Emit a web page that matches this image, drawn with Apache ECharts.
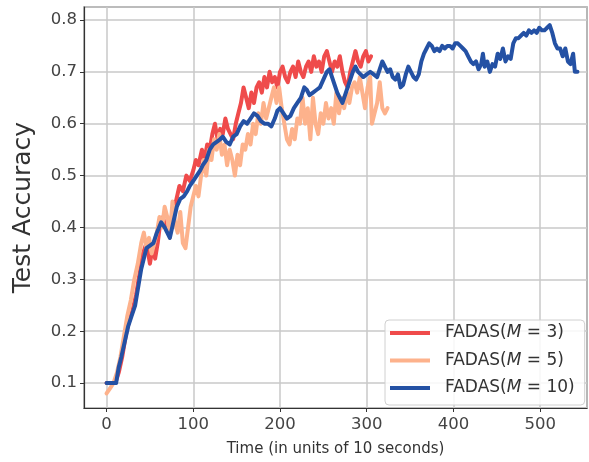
<!DOCTYPE html>
<html>
<head>
<meta charset="utf-8">
<script src="https://cdn.jsdelivr.net/npm/echarts@6/dist/echarts.min.js"></script>
<style>
  html, body { margin: 0; padding: 0; background: #fff; }
  #chart { width: 589px; height: 462px; }
</style>
</head>
<body>
<div id="chart"></div>
<script>
// 图例名称
const seriesNames = ['FADAS(M = 3)', 'FADAS(M = 5)', 'FADAS(M = 10)'];

// M = 3 : [时间, 精度]
const dataM3 = [
  [0, 0.10], [5, 0.10], [10, 0.10], [14, 0.12], [18, 0.15], [22, 0.19], [26, 0.22], [30, 0.24],
  [34, 0.27], [38, 0.31], [42, 0.35], [46, 0.37], [50, 0.33], [53, 0.36], [56, 0.34], [59, 0.37],
  [62, 0.41], [65, 0.42], [68, 0.40], [72, 0.39], [76, 0.43], [80, 0.45], [84, 0.48], [88, 0.47],
  [92, 0.50], [96, 0.49], [100, 0.51], [103, 0.53], [106, 0.52], [110, 0.55], [113, 0.53], [116, 0.56],
  [119, 0.55], [122, 0.58], [125, 0.60], [128, 0.57], [131, 0.59], [134, 0.58], [137, 0.61], [140, 0.59],
  [143, 0.58], [146, 0.57], [149, 0.60], [152, 0.62], [155, 0.64], [158, 0.67], [161, 0.65], [164, 0.63],
  [167, 0.66], [170, 0.64], [173, 0.67], [176, 0.68], [179, 0.66], [182, 0.69], [185, 0.67], [188, 0.70],
  [191, 0.68], [194, 0.69], [197, 0.67], [200, 0.70], [203, 0.71], [206, 0.69], [209, 0.68], [212, 0.70],
  [215, 0.71], [218, 0.69], [221, 0.72], [224, 0.70], [227, 0.69], [230, 0.71], [233, 0.72], [236, 0.70],
  [239, 0.73], [242, 0.71], [245, 0.72], [248, 0.70], [251, 0.73], [254, 0.74], [257, 0.72], [260, 0.70],
  [263, 0.72], [266, 0.71], [269, 0.73], [272, 0.70], [275, 0.68], [278, 0.67], [281, 0.70], [284, 0.72],
  [287, 0.74], [290, 0.72], [293, 0.71], [296, 0.73], [299, 0.74], [302, 0.72], [305, 0.73]
];

// M = 5
const dataM5 = [
  [0, 0.08], [4, 0.09], [8, 0.10], [12, 0.12], [16, 0.15], [20, 0.19], [24, 0.23], [28, 0.26],
  [32, 0.30], [36, 0.33], [40, 0.37], [43, 0.39], [46, 0.36], [49, 0.38], [52, 0.35], [55, 0.37],
  [58, 0.39], [61, 0.42], [64, 0.40], [67, 0.44], [70, 0.42], [73, 0.38], [76, 0.45], [79, 0.41],
  [82, 0.39], [85, 0.43], [88, 0.37], [91, 0.36], [94, 0.40], [97, 0.44], [100, 0.46], [103, 0.48],
  [106, 0.46], [109, 0.50], [112, 0.53], [115, 0.50], [118, 0.55], [121, 0.53], [124, 0.57], [127, 0.55],
  [130, 0.58], [133, 0.54], [136, 0.56], [139, 0.52], [142, 0.55], [145, 0.53], [148, 0.50], [151, 0.54],
  [154, 0.52], [157, 0.56], [160, 0.55], [163, 0.58], [166, 0.56], [169, 0.60], [172, 0.58], [175, 0.62],
  [178, 0.60], [181, 0.64], [184, 0.61], [187, 0.63], [190, 0.65], [193, 0.67], [196, 0.64], [199, 0.67],
  [202, 0.63], [205, 0.60], [208, 0.57], [211, 0.56], [214, 0.59], [217, 0.57], [220, 0.61], [223, 0.60],
  [226, 0.65], [229, 0.60], [232, 0.63], [235, 0.57], [238, 0.65], [241, 0.60], [244, 0.58], [247, 0.62],
  [250, 0.60], [253, 0.64], [256, 0.61], [259, 0.63], [262, 0.60], [265, 0.66], [268, 0.62], [271, 0.65],
  [274, 0.63], [277, 0.66], [280, 0.64], [283, 0.67], [286, 0.68], [289, 0.66], [292, 0.69], [295, 0.66],
  [298, 0.63], [301, 0.67], [304, 0.69], [306, 0.60], [309, 0.62], [312, 0.64], [315, 0.68], [318, 0.63],
  [321, 0.62], [324, 0.63]
];

// M = 10
const dataM10 = [
  [0, 0.10], [5, 0.10], [11, 0.10], [14, 0.13], [17, 0.15], [21, 0.18], [25, 0.21], [29, 0.23],
  [33, 0.25], [37, 0.29], [40, 0.32], [43, 0.34], [46, 0.36], [50, 0.365], [54, 0.37], [58, 0.39],
  [63, 0.41], [67, 0.40], [70, 0.39], [73, 0.38], [77, 0.41], [81, 0.44], [85, 0.455], [89, 0.46],
  [93, 0.47], [96, 0.48], [100, 0.49], [104, 0.50], [108, 0.51], [111, 0.52], [115, 0.53], [119, 0.55],
  [123, 0.56], [127, 0.565], [131, 0.57], [134, 0.575], [138, 0.565], [142, 0.56], [146, 0.575], [150, 0.58],
  [154, 0.595], [158, 0.605], [162, 0.60], [166, 0.61], [170, 0.62], [174, 0.615], [178, 0.605], [182, 0.60],
  [186, 0.60], [190, 0.595], [194, 0.61], [197, 0.625], [200, 0.63], [204, 0.62], [208, 0.61], [212, 0.615],
  [216, 0.63], [220, 0.64], [224, 0.65], [228, 0.67], [231, 0.665], [234, 0.655], [238, 0.66], [242, 0.665],
  [246, 0.67], [250, 0.685], [254, 0.70], [257, 0.705], [260, 0.69], [263, 0.675], [266, 0.66], [269, 0.65],
  [272, 0.64], [275, 0.655], [278, 0.67], [281, 0.685], [284, 0.70], [287, 0.71], [290, 0.70], [293, 0.695],
  [296, 0.69], [300, 0.695], [304, 0.70], [308, 0.695], [312, 0.69], [315, 0.705], [318, 0.72], [321, 0.71],
  [324, 0.70], [327, 0.705], [330, 0.69], [333, 0.685], [336, 0.695], [339, 0.67], [342, 0.675], [345, 0.695],
  [348, 0.71], [351, 0.70], [354, 0.69], [357, 0.685], [360, 0.695], [363, 0.72], [366, 0.735], [369, 0.745],
  [372, 0.755], [375, 0.75], [378, 0.74], [381, 0.745], [384, 0.74], [387, 0.75], [390, 0.745], [393, 0.75],
  [396, 0.75], [399, 0.745], [402, 0.755], [405, 0.755], [408, 0.75], [411, 0.745], [414, 0.74], [417, 0.73],
  [420, 0.72], [423, 0.715], [426, 0.72], [429, 0.705], [432, 0.715], [434, 0.735], [436, 0.71], [439, 0.72],
  [442, 0.70], [445, 0.715], [448, 0.71], [451, 0.735], [454, 0.725], [457, 0.745], [460, 0.72], [463, 0.73],
  [466, 0.725], [469, 0.755], [472, 0.765], [475, 0.765], [478, 0.77], [481, 0.775], [484, 0.77], [487, 0.78],
  [490, 0.775], [493, 0.78], [496, 0.775], [499, 0.785], [502, 0.78], [505, 0.78], [508, 0.785], [511, 0.79],
  [514, 0.775], [517, 0.755], [520, 0.745], [523, 0.745], [526, 0.73], [529, 0.745], [532, 0.72], [535, 0.715],
  [538, 0.735], [540, 0.70], [543, 0.70]
];

const seriesData = [dataM3, dataM5, dataM10];
const colors = ['#ef4b4b', '#fdb28c', '#2451a4'];

const font = 'DejaVu Sans';
const myChart = echarts.init(document.getElementById('chart'), null, { renderer: 'canvas' });

const option = {
  animation: false,
  backgroundColor: '#fff',
  grid: {
    left: 84, right: 2, top: 7, bottom: 49,
    show: true,
    borderColor: '#333',
    borderWidth: 1.2
  },
  legend: {
    orient: 'vertical',
    left: 385,
    top: 320,
    padding: [4, 10, 8, 5],
    backgroundColor: 'rgba(255,255,255,0.85)',
    borderColor: '#d0d0d0',
    borderWidth: 1,
    borderRadius: 4,
    icon: 'rect',
    itemWidth: 40,
    itemHeight: 4,
    itemGap: 9.5,
    data: seriesNames,
    formatter: function (name) {
      return '{s|}' + name.replace('M', '{i|M}');
    },
    textStyle: {
      fontFamily: font,
      fontSize: 17,
      color: '#333',
      lineHeight: 18,
      rich: {
        s: { width: 10 },
        i: { fontFamily: font, fontSize: 17, fontStyle: 'italic', color: '#333' }
      }
    }
  },
  xAxis: {
    type: 'value',
    min: -26,
    max: 554,
    splitNumber: 6,
    name: 'Time (in units of 10 seconds)',
    nameLocation: 'middle',
    nameGap: 34,
    nameTextStyle: { fontFamily: font, fontSize: 15, color: '#333' },
    axisLine: { show: true, onZero: false, lineStyle: { color: '#333', width: 1.2 } },
    axisTick: { show: true, inside: false, length: 4, lineStyle: { color: '#333' } },
    axisLabel: {
      fontFamily: font, fontSize: 16.5, color: '#444', margin: 8,
      showMinLabel: false, showMaxLabel: false
    },
    splitLine: { show: true, lineStyle: { color: '#c9c9c9', width: 1.5 } }
  },
  yAxis: {
    type: 'value',
    min: 0.052,
    max: 0.825,
    splitNumber: 8,
    name: 'Test Accuracy',
    nameLocation: 'middle',
    nameGap: 48,
    nameTextStyle: { fontFamily: font, fontSize: 25, color: '#333' },
    axisLine: { show: true, onZero: false, lineStyle: { color: '#333', width: 1.2 } },
    axisTick: { show: true, inside: false, length: 4, lineStyle: { color: '#333' } },
    axisLabel: {
      fontFamily: font, fontSize: 16.5, color: '#444', margin: 7,
      showMinLabel: false, showMaxLabel: false,
      formatter: function (v) { return v.toFixed(1); }
    },
    splitLine: { show: true, lineStyle: { color: '#c9c9c9', width: 1.5 } }
  },
  series: seriesNames.map((name, i) => ({
    name: name,
    type: 'line',
    data: seriesData[i],
    showSymbol: false,
    symbol: 'none',
    color: colors[i],
    z: 2 + i,
    lineStyle: { width: 4, color: colors[i], join: 'round', cap: 'round' }
  }))
};

myChart.setOption(option);
</script>
</body>
</html>
